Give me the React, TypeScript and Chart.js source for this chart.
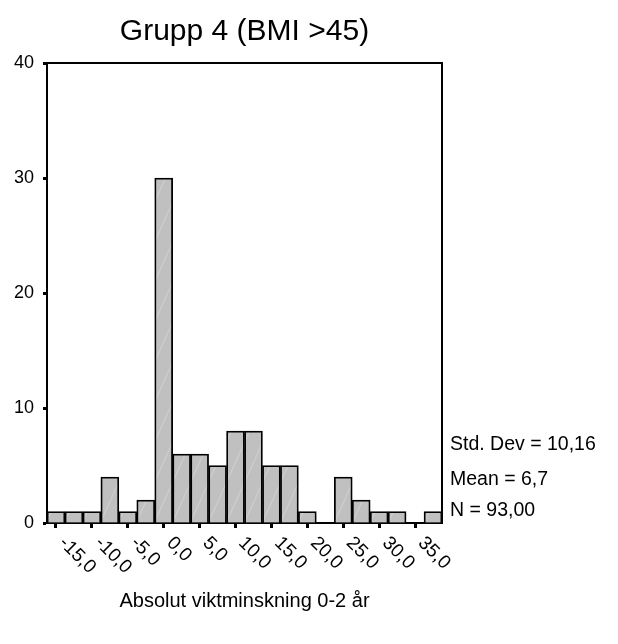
import React, { useEffect, useRef } from 'react';
import { Chart, registerables } from 'chart.js';

Chart.register(...registerables);

const binCenters = [-15, -12.5, -10, -7.5, -5, -2.5, 0, 2.5, 5, 7.5, 10, 12.5, 15, 17.5, 20, 22.5, 25, 27.5, 30, 32.5, 35, 37.5];
const counts = [1, 1, 1, 4, 1, 2, 30, 6, 6, 5, 8, 8, 5, 5, 1, 0, 4, 2, 1, 1, 0, 1];
const tickValues = [-15, -10, -5, 0, 5, 10, 15, 20, 25, 30, 35];
const tickLabels = ['-15,0', '-10,0', '-5,0', '0,0', '5,0', '10,0', '15,0', '20,0', '25,0', '30,0', '35,0'];
const yMin = 0;
const yMax = 40;
const yStep = 10;
const titleText = 'Grupp 4 (BMI >45)';
const xTitleText = 'Absolut viktminskning 0-2 år';
const statsLines = ['Std. Dev = 10,16', 'Mean = 6,7', 'N = 93,00'];

const FONT = '"Liberation Sans", Arial, sans-serif';

function makePattern(): CanvasPattern | string {
  const c = document.createElement('canvas');
  c.width = 18;
  c.height = 40;
  const g = c.getContext('2d');
  if (!g) return '#c0c0c0';
  g.fillStyle = '#c0c0c0';
  g.fillRect(0, 0, 18, 40);
  g.strokeStyle = 'rgba(225,225,225,0.8)';
  g.lineWidth = 0.7;
  g.beginPath();
  g.moveTo(0, 40);
  g.lineTo(18, 0);
  g.stroke();
  const p = g.createPattern(c, 'repeat');
  return p || '#c0c0c0';
}

const decorPlugin = {
  id: 'decor',
  afterDraw(chart: any) {
    const ctx = chart.ctx as CanvasRenderingContext2D;
    const a = chart.chartArea;
    const xs = chart.scales.x;
    ctx.save();
    // frame top and right
    ctx.strokeStyle = '#000';
    ctx.lineWidth = 2;
    ctx.beginPath();
    ctx.moveTo(a.left - 1, a.top);
    ctx.lineTo(a.right, a.top);
    ctx.lineTo(a.right, a.bottom + 1);
    ctx.stroke();

    ctx.fillStyle = '#000';
    // rotated x tick labels
    ctx.font = `19px ${FONT}`;
    ctx.textAlign = 'left';
    ctx.textBaseline = 'middle';
    tickValues.forEach((v, i) => {
      const idx = binCenters.indexOf(v);
      const px = xs.getPixelForValue(idx);
      ctx.save();
      ctx.translate(px + 6, a.bottom + 17);
      ctx.rotate(Math.PI / 4);
      ctx.fillText(tickLabels[i], 0, 0);
      ctx.restore();
    });

    // title
    const cx = (a.left + a.right) / 2;
    ctx.textAlign = 'center';
    ctx.textBaseline = 'alphabetic';
    ctx.font = `30px ${FONT}`;
    ctx.fillText(titleText, cx, 32);

    // x title
    ctx.font = `20px ${FONT}`;
    ctx.fillText(xTitleText, cx, 599);

    // stats
    ctx.textAlign = 'left';
    ctx.font = `19.5px ${FONT}`;
    const sx = a.right + 8;
    const baseYs = [442, 477, 508];
    statsLines.forEach((s, i) => ctx.fillText(s, sx, baseYs[i]));
    ctx.restore();
  },
};

export default function App() {
  const ref = useRef<HTMLCanvasElement | null>(null);
  useEffect(() => {
    if (!ref.current) return;
    const chart = new Chart(ref.current, {
      type: 'bar',
      data: {
        labels: binCenters.map(String),
        datasets: [
          {
            data: counts,
            backgroundColor: makePattern() as any,
            borderColor: '#000',
            borderWidth: 1.8,
            borderSkipped: 'start',
            barPercentage: 1,
            categoryPercentage: 1,
          },
        ],
      },
      options: {
        responsive: false,
        animation: false,
        devicePixelRatio: 1,
        layout: { padding: { left: 0, right: 168, top: 55, bottom: 103 } },
        plugins: {
          legend: { display: false },
          title: { display: false },
          tooltip: { enabled: false },
        },
        scales: {
          x: {
            type: 'category',
            offset: true,
            afterFit: (s: any) => {
              s.height = 10;
            },
            grid: {
              display: true,
              drawOnChartArea: false,
              drawTicks: true,
              offset: false,
              tickLength: 5,
              tickWidth: 3,
              color: (c: any) => (c.index % 2 === 0 && c.index <= 20 ? '#000' : 'rgba(0,0,0,0)'),
            },
            border: { display: true, color: '#000', width: 2 },
            ticks: { display: false },
          },
          y: {
            min: yMin,
            max: yMax,
            afterFit: (s: any) => {
              s.width = 39;
            },
            grid: {
              display: true,
              drawOnChartArea: false,
              drawTicks: true,
              tickLength: 4,
              tickWidth: 3,
              color: '#000',
            },
            border: { display: true, color: '#000', width: 2 },
            ticks: {
              stepSize: yStep,
              padding: 9,
              color: '#000',
              font: { family: FONT, size: 18 },
            },
          },
        },
      },
      plugins: [decorPlugin],
    });
    return () => chart.destroy();
  }, []);
  return (
    <div style={{ width: 602, height: 628 }}>
      <canvas ref={ref} width={602} height={628} style={{ display: 'block' }} />
    </div>
  );
}
